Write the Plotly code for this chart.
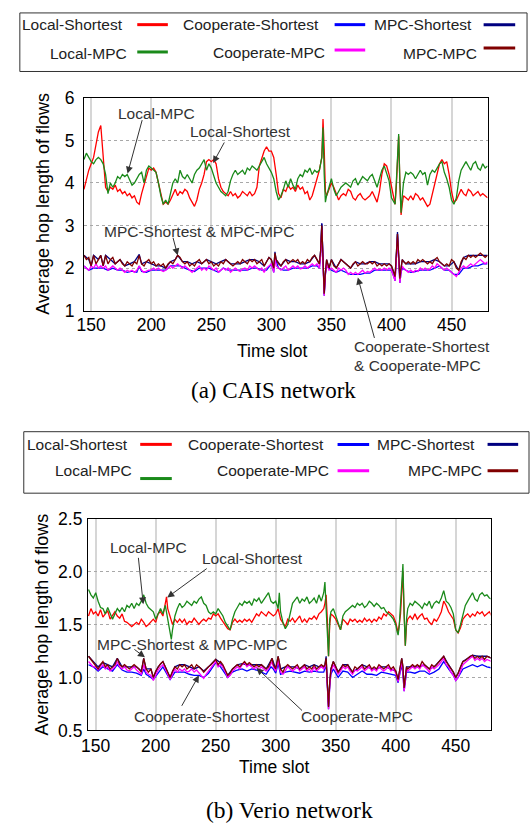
import plotly.graph_objects as go

# ---------------- data (time slot, average hop length) ----------------
series_names = ["Local-Shortest", "Local-MPC", "Cooperate-Shortest",
                "MPC-Shortest", "Cooperate-MPC", "MPC-MPC"]
series_colors = ["#ff0000", "#1a8a1a", "#0000ff", "#000080", "#ff00ff", "#800000"]
x_ticks = [150, 200, 250, 300, 350, 400, 450]
y_ticks_a = [1, 2, 3, 4, 5, 6]
y_ticks_b = [0.5, 1.0, 1.5, 2.0, 2.5]
y_ticktext_b = ["0.5", "1.0", "1.5", "2.0", "2.5"]

# (a) CAIS network
LS_A = [[144,3.85],[146,4.1],[148,4.3],[150,4.45],[152,4.6],[154,4.9],[156,5.2],[158,5.35],[160,4.7],[162,3.9],[164,3.8],[166,3.9],[168,3.85],[170,3.95],[172,3.8],[174,3.85],[176,3.75],[178,3.8],[180,3.7],[182,3.75],[184,3.65],[186,3.7],[188,3.55],[190,3.5],[192,3.75],[194,3.95],[196,4.2],[198,4.35],[200,4.3],[202,4.35],[204,4.25],[206,4.0],[208,3.7],[210,3.5],[212,3.55],[214,3.5],[216,3.6],[218,3.75],[220,3.85],[222,3.7],[224,3.8],[226,3.75],[228,3.85],[230,3.8],[232,3.65],[234,3.55],[236,3.45],[238,3.6],[240,3.85],[242,4.0],[244,4.2],[246,4.5],[248,4.55],[250,4.5],[252,4.55],[254,4.45],[256,4.1],[258,3.9],[260,3.8],[262,3.75],[264,3.7],[266,3.8],[268,3.7],[270,3.75],[272,3.65],[274,3.7],[276,3.8],[278,3.75],[280,3.7],[282,3.8],[284,3.7],[286,3.75],[288,3.9],[290,4.4],[292,4.6],[294,4.75],[296,4.85],[298,4.75],[300,4.75],[302,4.6],[304,4.2],[306,3.75],[308,3.65],[310,3.85],[312,3.8],[314,3.95],[316,3.85],[318,3.9],[320,3.8],[322,3.95],[324,3.85],[326,3.9],[328,3.75],[330,3.8],[332,3.6],[334,3.7],[336,3.9],[338,4.1],[340,4.3],[342,4.6],[343,5.5],[344,4.8],[345,3.8],[346,3.7],[348,3.85],[350,4.0],[352,3.9],[354,3.75],[356,3.6],[358,3.7],[360,3.75],[362,3.7],[364,3.85],[366,3.8],[368,3.65],[370,3.6],[372,3.7],[374,3.75],[376,3.65],[378,3.6],[380,3.65],[382,3.7],[384,3.8],[386,3.65],[388,3.55],[390,3.8],[392,4.2],[394,4.45],[396,4.4],[398,4.2],[400,3.9],[402,3.6],[403,3.5],[404,3.9],[405,4.6],[406,5.1],[407,4.0],[408,3.25],[409,3.5],[410,3.7],[412,3.65],[414,3.6],[416,3.7],[418,3.6],[420,3.75],[422,3.7],[424,3.6],[426,3.65],[428,3.55],[430,3.45],[432,3.5],[434,3.75],[436,4.0],[438,4.2],[440,4.45],[442,4.55],[444,4.45],[446,4.5],[448,4.2],[450,3.8],[452,3.55],[454,3.6],[456,3.75],[458,3.85],[460,3.75],[462,3.7],[464,3.85],[466,3.8],[468,3.7],[470,3.75],[472,3.8],[474,3.7],[476,3.75],[478,3.7],[480,3.65]]
LM_A = [[144,4.55],[146,4.7],[148,4.6],[150,4.5],[152,4.45],[154,4.55],[156,4.6],[158,4.55],[160,4.45],[162,4.2],[164,3.75],[166,4.0],[168,3.9],[170,4.0],[172,4.15],[174,4.1],[176,4.2],[178,4.15],[180,4.2],[182,4.05],[184,3.95],[186,4.0],[188,4.1],[190,4.2],[192,4.25],[194,4.0],[196,4.3],[198,4.4],[200,4.35],[202,4.3],[204,4.25],[206,4.0],[208,3.7],[210,3.5],[212,3.6],[214,3.5],[216,3.75],[218,4.0],[220,4.1],[222,4.0],[224,4.3],[226,4.15],[228,4.1],[230,4.2],[232,4.1],[234,4.0],[236,4.2],[238,4.3],[240,4.35],[242,4.45],[244,4.55],[246,4.3],[248,4.45],[250,4.35],[252,4.2],[254,4.0],[256,3.9],[258,3.8],[260,3.75],[262,3.7],[264,3.8],[266,4.05],[268,4.2],[270,4.3],[272,4.2],[274,4.25],[276,4.3],[278,4.2],[280,4.35],[282,4.3],[284,4.4],[286,4.35],[288,4.3],[290,4.4],[292,4.5],[294,4.6],[296,4.45],[298,4.35],[300,4.25],[302,4.1],[304,3.8],[306,3.6],[308,3.7],[310,3.85],[312,4.05],[314,3.9],[316,4.1],[318,3.95],[320,3.85],[322,4.1],[324,4.2],[326,4.15],[328,4.3],[330,4.25],[332,4.35],[334,4.2],[336,4.3],[338,4.25],[340,4.3],[342,4.6],[343,5.3],[344,4.2],[345,3.55],[346,3.7],[348,3.9],[350,4.1],[352,3.85],[354,3.7],[356,3.8],[358,3.9],[360,3.95],[362,4.0],[364,3.95],[366,3.9],[368,4.05],[370,4.1],[372,3.95],[374,4.05],[376,4.15],[378,4.1],[380,4.05],[382,4.15],[384,4.2],[386,4.05],[388,3.9],[390,4.1],[392,4.3],[394,4.4],[396,4.2],[398,4.05],[400,3.65],[402,3.55],[403,3.5],[404,4.0],[405,4.7],[406,5.15],[407,4.0],[408,3.3],[409,3.7],[410,4.0],[412,4.25],[414,4.2],[416,4.25],[418,4.2],[420,4.1],[422,4.2],[424,4.3],[426,4.2],[428,4.25],[430,3.95],[432,4.2],[434,4.3],[436,4.25],[438,4.35],[440,4.45],[442,4.5],[444,4.25],[446,4.1],[448,3.9],[450,3.6],[452,3.5],[454,3.65],[456,4.05],[458,4.3],[460,4.4],[462,4.5],[464,4.4],[466,4.3],[468,4.45],[470,4.5],[472,4.35],[474,4.3],[476,4.45],[478,4.35],[480,4.4]]
CS_A = [[144,2.05],[148,1.95],[152,2.0],[156,2.0],[160,2.0],[164,1.95],[168,2.0],[172,1.95],[176,1.95],[180,1.9],[184,1.93],[188,1.9],[190,2.05],[192,1.92],[196,1.9],[200,1.95],[204,1.95],[208,1.95],[212,1.95],[216,2.05],[220,2.05],[224,2.05],[228,2.0],[232,1.95],[236,1.92],[240,2.0],[244,2.0],[248,2.0],[252,1.95],[256,1.9],[260,2.0],[264,1.95],[268,1.95],[272,1.95],[276,1.95],[280,1.95],[284,2.0],[288,2.0],[292,1.95],[296,1.95],[300,2.1],[302,1.9],[303,2.25],[306,2.0],[310,1.95],[314,1.95],[318,2.0],[322,2.0],[326,2.0],[330,2.0],[334,2.05],[338,2.05],[340,2.0],[341,2.3],[342,3.05],[343,2.1],[344,1.35],[345,1.85],[346,2.05],[350,1.95],[354,1.9],[358,1.95],[362,1.9],[366,1.85],[370,1.85],[374,1.85],[378,1.88],[382,1.88],[386,1.95],[390,1.95],[394,1.95],[398,1.95],[400,1.95],[402,1.8],[403,1.7],[404,2.2],[405,2.8],[406,2.2],[407,1.65],[408,1.9],[409,2.0],[412,1.95],[416,1.9],[420,1.92],[424,1.95],[428,1.95],[432,1.95],[436,2.0],[440,2.05],[444,1.95],[448,1.95],[452,1.85],[456,1.85],[460,2.0],[464,2.0],[468,2.05],[472,2.05],[476,2.1],[480,2.1]]
MS_A = [[144,2.3],[148,2.2],[150,2.05],[152,2.3],[156,2.2],[158,2.3],[160,2.05],[162,2.3],[166,2.2],[170,2.1],[174,2.2],[178,2.05],[182,2.1],[186,2.15],[190,2.32],[192,2.1],[196,2.15],[200,2.1],[204,2.05],[208,2.05],[212,2.0],[216,2.15],[220,2.2],[222,2.3],[226,2.15],[230,2.15],[234,2.1],[238,2.15],[242,2.1],[246,2.2],[250,2.15],[254,2.1],[258,2.15],[262,2.2],[266,2.1],[270,2.1],[274,2.1],[278,2.15],[282,2.2],[286,2.2],[290,2.15],[294,2.05],[298,2.25],[300,2.2],[302,2.0],[303,2.38],[304,2.2],[308,2.05],[312,2.2],[316,2.15],[320,2.15],[324,2.1],[328,2.1],[332,2.15],[336,2.3],[340,2.1],[341,2.4],[342,3.05],[343,2.2],[344,1.4],[345,1.9],[346,2.2],[348,2.0],[350,2.2],[354,2.0],[358,2.2],[362,2.1],[366,2.0],[370,2.15],[374,2.1],[378,2.1],[382,2.15],[386,2.15],[390,2.1],[394,2.1],[398,2.1],[400,2.05],[402,1.9],[403,1.8],[404,2.3],[405,2.85],[406,2.3],[407,1.75],[408,2.0],[409,2.2],[412,2.1],[416,2.1],[420,2.1],[424,2.15],[428,2.15],[432,2.15],[436,2.2],[440,2.15],[444,2.05],[448,2.05],[452,2.15],[456,1.95],[460,2.25],[464,2.3],[468,2.3],[472,2.3],[476,2.3],[480,2.3]]
CM_A = [[144,2.05],[146,2.0],[148,1.95],[150,2.05],[152,2.0],[154,2.1],[156,2.0],[158,2.05],[160,2.0],[162,2.05],[164,1.95],[166,2.0],[168,2.05],[170,2.0],[172,1.95],[174,2.0],[176,1.95],[178,1.9],[180,1.95],[182,1.92],[184,1.95],[186,1.9],[188,1.95],[190,2.05],[192,1.95],[194,1.9],[196,1.93],[198,1.95],[200,1.95],[202,2.0],[204,1.95],[206,2.0],[208,1.95],[210,1.92],[212,1.95],[214,2.0],[216,2.05],[218,2.0],[220,2.05],[222,2.1],[224,2.05],[226,2.0],[228,2.05],[230,2.0],[232,1.95],[234,1.9],[236,1.95],[238,2.0],[240,2.05],[242,1.95],[244,2.0],[246,1.95],[248,2.05],[250,2.0],[252,1.95],[254,2.0],[256,1.9],[258,1.95],[260,2.0],[262,1.95],[264,2.0],[266,1.9],[268,1.95],[270,2.0],[272,1.95],[274,1.92],[276,1.98],[278,2.0],[280,1.95],[282,2.05],[284,2.0],[286,2.05],[288,2.0],[290,1.95],[292,2.0],[294,1.9],[296,2.0],[298,2.05],[300,2.1],[302,1.9],[303,2.25],[304,2.05],[306,2.0],[308,1.95],[310,2.0],[312,2.05],[314,1.95],[316,2.0],[318,2.05],[320,2.0],[322,2.05],[324,1.98],[326,2.0],[328,2.05],[330,2.0],[332,2.05],[334,2.1],[336,2.05],[338,2.1],[340,2.0],[341,2.3],[342,2.9],[343,2.1],[344,1.35],[345,1.85],[346,2.1],[348,1.95],[350,2.0],[352,1.95],[354,1.9],[356,2.0],[358,1.95],[360,2.0],[362,1.95],[364,1.85],[366,1.9],[368,1.85],[370,1.9],[372,1.85],[374,1.9],[376,1.95],[378,1.88],[380,1.92],[382,1.9],[384,1.95],[386,2.0],[388,1.95],[390,1.98],[392,1.95],[394,2.0],[396,1.95],[398,2.0],[400,1.95],[402,1.8],[403,1.7],[404,2.2],[405,2.7],[406,2.2],[407,1.65],[408,1.9],[409,2.05],[410,2.0],[412,1.95],[414,1.9],[416,1.95],[418,1.9],[420,1.95],[422,1.92],[424,2.0],[426,1.95],[428,2.0],[430,1.95],[432,1.98],[434,2.05],[436,2.0],[438,2.1],[440,2.05],[442,2.0],[444,1.95],[446,2.0],[448,1.95],[450,1.9],[452,1.85],[454,1.8],[456,1.9],[458,2.0],[460,2.05],[462,2.0],[464,2.05],[466,2.1],[468,2.05],[470,2.1],[472,2.15],[474,2.2],[476,2.15],[478,2.1],[480,2.15]]
MM_A = [[144,2.3],[146,2.2],[148,2.25],[150,2.05],[152,2.3],[154,2.1],[156,2.2],[158,2.3],[160,2.05],[162,2.3],[164,2.1],[166,2.2],[168,2.25],[170,2.1],[172,2.15],[174,2.2],[176,2.1],[178,2.05],[180,2.15],[182,2.1],[184,2.05],[186,2.15],[188,2.1],[190,2.3],[192,2.1],[194,2.05],[196,2.15],[198,2.2],[200,2.1],[202,2.15],[204,2.05],[206,2.1],[208,2.05],[210,2.1],[212,2.0],[214,2.1],[216,2.15],[218,2.1],[220,2.2],[222,2.3],[224,2.25],[226,2.15],[228,2.1],[230,2.15],[232,2.05],[234,2.1],[236,2.05],[238,2.15],[240,2.2],[242,2.1],[244,2.15],[246,2.2],[248,2.1],[250,2.15],[252,2.05],[254,2.1],[256,2.05],[258,2.15],[260,2.1],[262,2.2],[264,2.15],[266,2.1],[268,2.05],[270,2.1],[272,2.15],[274,2.1],[276,2.2],[278,2.15],[280,2.1],[282,2.2],[284,2.15],[286,2.2],[288,2.1],[290,2.15],[292,2.2],[294,2.05],[296,2.15],[298,2.25],[300,2.2],[302,2.0],[303,2.35],[304,2.2],[306,2.1],[308,2.05],[310,2.15],[312,2.2],[314,2.1],[316,2.15],[318,2.2],[320,2.15],[322,2.2],[324,2.1],[326,2.15],[328,2.1],[330,2.2],[332,2.15],[334,2.25],[336,2.3],[338,2.2],[340,2.1],[341,2.4],[342,3.0],[343,2.2],[344,1.4],[345,1.9],[346,2.2],[348,2.0],[350,2.2],[352,2.05],[354,2.0],[356,2.1],[358,2.2],[360,2.15],[362,2.1],[364,2.05],[366,2.0],[368,2.1],[370,2.15],[372,2.05],[374,2.1],[376,2.15],[378,2.1],[380,2.1],[382,2.15],[384,2.1],[386,2.15],[388,2.05],[390,2.1],[392,2.05],[394,2.1],[396,2.05],[398,2.1],[400,2.05],[402,1.9],[403,1.8],[404,2.3],[405,2.8],[406,2.3],[407,1.75],[408,2.0],[409,2.2],[410,2.15],[412,2.1],[414,2.15],[416,2.1],[418,2.15],[420,2.1],[422,2.2],[424,2.15],[426,2.2],[428,2.15],[430,2.1],[432,2.15],[434,2.1],[436,2.2],[438,2.25],[440,2.15],[442,2.1],[444,2.05],[446,2.1],[448,2.05],[450,2.2],[452,2.15],[454,2.0],[456,1.95],[458,2.15],[460,2.25],[462,2.2],[464,2.3],[466,2.25],[468,2.3],[470,2.25],[472,2.3],[474,2.35],[476,2.3],[478,2.25],[480,2.3]]

# (b) Verio network
LS_B = [[144,1.58],[146,1.65],[148,1.6],[150,1.62],[152,1.58],[154,1.64],[156,1.57],[158,1.6],[160,1.63],[162,1.55],[164,1.58],[166,1.62],[168,1.58],[170,1.56],[172,1.6],[174,1.53],[176,1.52],[178,1.5],[180,1.48],[182,1.5],[184,1.52],[186,1.5],[188,1.55],[190,1.52],[192,1.48],[194,1.5],[196,1.53],[198,1.55],[200,1.52],[202,1.6],[204,1.62],[206,1.58],[208,1.7],[209,1.76],[210,1.65],[212,1.58],[214,1.5],[216,1.55],[218,1.52],[220,1.55],[222,1.52],[224,1.55],[226,1.5],[228,1.53],[230,1.52],[232,1.56],[234,1.53],[236,1.5],[238,1.53],[240,1.55],[242,1.53],[244,1.56],[246,1.55],[248,1.6],[250,1.58],[252,1.6],[254,1.56],[256,1.53],[258,1.5],[260,1.46],[262,1.45],[264,1.52],[266,1.55],[268,1.52],[270,1.54],[272,1.52],[274,1.55],[276,1.53],[278,1.55],[280,1.52],[282,1.56],[284,1.6],[286,1.58],[288,1.62],[290,1.6],[292,1.58],[294,1.62],[296,1.6],[298,1.58],[300,1.6],[302,1.65],[304,1.55],[306,1.52],[308,1.48],[310,1.55],[312,1.53],[314,1.56],[316,1.52],[318,1.55],[320,1.58],[322,1.52],[324,1.55],[326,1.52],[328,1.56],[330,1.55],[332,1.58],[334,1.55],[336,1.6],[338,1.62],[340,1.65],[341,1.7],[342,1.78],[343,1.55],[344,1.2],[345,1.5],[346,1.6],[348,1.58],[350,1.55],[352,1.5],[354,1.45],[356,1.55],[358,1.52],[360,1.5],[362,1.55],[364,1.53],[366,1.55],[368,1.52],[370,1.54],[372,1.52],[374,1.56],[376,1.53],[378,1.55],[380,1.52],[382,1.55],[384,1.53],[386,1.57],[388,1.55],[390,1.6],[392,1.58],[394,1.62],[396,1.6],[398,1.58],[400,1.52],[401,1.46],[402,1.42],[403,1.5],[404,1.6],[405,1.8],[406,2.0],[407,1.6],[408,1.3],[409,1.5],[410,1.55],[412,1.58],[414,1.55],[416,1.6],[418,1.55],[420,1.58],[422,1.6],[424,1.55],[426,1.56],[428,1.52],[430,1.5],[432,1.55],[434,1.53],[436,1.57],[438,1.62],[440,1.72],[442,1.68],[444,1.62],[446,1.58],[448,1.55],[450,1.45],[452,1.42],[454,1.47],[456,1.55],[458,1.58],[460,1.6],[462,1.57],[464,1.6],[466,1.58],[468,1.62],[470,1.6],[472,1.62],[474,1.58],[476,1.6],[478,1.62],[480,1.58]]
LM_B = [[144,1.83],[146,1.78],[148,1.75],[150,1.8],[152,1.72],[154,1.66],[156,1.65],[158,1.6],[160,1.66],[162,1.6],[164,1.55],[166,1.6],[168,1.65],[170,1.62],[172,1.66],[174,1.62],[176,1.68],[178,1.66],[180,1.7],[182,1.65],[184,1.7],[186,1.68],[188,1.72],[190,1.78],[192,1.7],[194,1.66],[196,1.64],[198,1.62],[200,1.55],[202,1.6],[204,1.65],[206,1.6],[208,1.68],[210,1.55],[212,1.42],[213,1.36],[214,1.45],[216,1.58],[218,1.65],[220,1.7],[222,1.66],[224,1.68],[226,1.72],[228,1.7],[230,1.68],[232,1.72],[234,1.7],[236,1.74],[238,1.76],[240,1.7],[242,1.68],[244,1.62],[246,1.6],[248,1.62],[250,1.6],[252,1.65],[254,1.62],[256,1.58],[258,1.52],[260,1.48],[262,1.45],[264,1.55],[266,1.62],[268,1.66],[270,1.7],[272,1.68],[274,1.72],[276,1.7],[278,1.72],[280,1.68],[282,1.74],[284,1.72],[286,1.75],[288,1.7],[290,1.73],[292,1.76],[294,1.8],[296,1.72],[298,1.7],[300,1.72],[302,1.65],[303,1.8],[304,1.62],[306,1.52],[308,1.46],[310,1.5],[312,1.6],[314,1.7],[316,1.73],[318,1.76],[320,1.7],[322,1.74],[324,1.72],[326,1.76],[328,1.7],[330,1.72],[332,1.75],[334,1.7],[336,1.78],[338,1.72],[340,1.8],[341,1.9],[342,1.65],[343,1.4],[344,1.2],[345,1.55],[346,1.62],[348,1.65],[350,1.58],[352,1.52],[354,1.45],[356,1.58],[358,1.62],[360,1.64],[362,1.66],[364,1.68],[366,1.66],[368,1.7],[370,1.68],[372,1.7],[374,1.66],[376,1.68],[378,1.72],[380,1.7],[382,1.67],[384,1.7],[386,1.68],[388,1.65],[390,1.66],[392,1.62],[394,1.6],[396,1.58],[398,1.55],[400,1.5],[401,1.44],[402,1.4],[403,1.5],[404,1.7],[405,1.9],[406,2.07],[407,1.6],[408,1.3],[409,1.55],[410,1.65],[412,1.7],[414,1.68],[416,1.72],[418,1.7],[420,1.68],[422,1.65],[424,1.7],[426,1.68],[428,1.72],[430,1.65],[432,1.7],[434,1.72],[436,1.7],[438,1.75],[440,1.82],[442,1.72],[444,1.7],[446,1.66],[448,1.6],[450,1.45],[452,1.42],[454,1.5],[456,1.6],[458,1.68],[460,1.72],[462,1.76],[464,1.8],[466,1.74],[468,1.72],[470,1.78],[472,1.8],[474,1.77],[476,1.78],[478,1.75],[480,1.74]]
CS_B = [[144,1.12],[148,1.1],[152,1.06],[156,1.1],[160,1.08],[164,1.06],[168,1.12],[172,1.07],[176,1.05],[180,1.05],[184,1.04],[188,1.02],[190,1.08],[192,1.03],[196,1.0],[198,0.98],[202,1.04],[206,1.1],[210,1.02],[212,0.98],[216,1.05],[220,1.05],[224,1.05],[228,1.03],[232,1.02],[236,1.02],[240,1.0],[244,1.04],[248,1.1],[250,1.14],[254,1.1],[258,1.03],[260,1.0],[264,1.05],[268,1.07],[272,1.08],[276,1.06],[280,1.08],[284,1.07],[288,1.05],[292,1.03],[296,1.1],[298,1.08],[300,1.04],[302,1.13],[304,1.03],[308,1.05],[312,1.06],[316,1.05],[320,1.04],[324,1.06],[328,1.05],[332,1.06],[336,1.05],[340,1.05],[341,1.08],[342,1.12],[343,0.92],[344,0.7],[345,0.92],[346,1.03],[348,1.08],[352,1.0],[356,1.06],[360,1.05],[364,1.0],[368,1.03],[372,1.06],[376,1.03],[380,1.03],[384,1.02],[388,1.05],[392,1.04],[396,1.03],[400,1.02],[402,0.95],[404,1.08],[405,1.12],[406,1.03],[407,0.87],[408,0.96],[409,1.05],[412,1.05],[416,1.04],[420,1.06],[424,1.06],[428,1.03],[432,1.05],[436,1.08],[440,1.15],[444,1.08],[448,1.02],[450,0.97],[452,1.0],[456,1.08],[460,1.1],[464,1.12],[468,1.1],[472,1.12],[476,1.1],[480,1.09]]
MS_B = [[144,1.2],[148,1.15],[152,1.1],[156,1.14],[160,1.12],[164,1.1],[168,1.18],[172,1.1],[176,1.1],[180,1.1],[184,1.1],[188,1.06],[190,1.18],[192,1.08],[196,1.08],[198,1.0],[202,1.1],[206,1.15],[210,1.05],[212,1.0],[216,1.1],[220,1.12],[224,1.12],[228,1.1],[232,1.08],[236,1.1],[240,1.06],[244,1.1],[248,1.15],[250,1.17],[254,1.14],[258,1.06],[260,1.02],[264,1.08],[268,1.12],[272,1.13],[276,1.12],[280,1.12],[284,1.12],[288,1.12],[292,1.08],[296,1.15],[297,1.18],[300,1.08],[302,1.2],[304,1.08],[308,1.1],[312,1.1],[316,1.1],[320,1.08],[324,1.12],[328,1.1],[332,1.12],[336,1.1],[340,1.1],[341,1.12],[342,1.2],[343,0.95],[344,0.73],[345,0.95],[346,1.08],[348,1.15],[352,1.05],[356,1.12],[360,1.12],[364,1.05],[368,1.08],[372,1.12],[376,1.1],[380,1.08],[384,1.08],[388,1.1],[392,1.1],[396,1.08],[400,1.06],[402,0.98],[404,1.12],[405,1.18],[406,1.1],[407,0.9],[408,1.0],[409,1.1],[412,1.1],[416,1.1],[420,1.1],[424,1.12],[428,1.08],[432,1.1],[436,1.15],[440,1.2],[444,1.12],[448,1.05],[450,1.0],[452,1.04],[456,1.15],[460,1.18],[464,1.21],[468,1.2],[472,1.2],[476,1.2],[480,1.18]]
CM_B = [[144,1.15],[146,1.12],[148,1.1],[150,1.1],[152,1.07],[154,1.1],[156,1.12],[158,1.08],[160,1.1],[162,1.06],[164,1.08],[166,1.1],[168,1.15],[170,1.1],[172,1.08],[174,1.1],[176,1.07],[178,1.06],[180,1.08],[182,1.1],[184,1.07],[186,1.05],[188,1.03],[190,1.12],[192,1.05],[194,1.03],[196,1.02],[198,0.97],[200,1.02],[202,1.07],[204,1.1],[206,1.12],[208,1.08],[210,1.03],[212,0.98],[214,1.03],[216,1.08],[218,1.05],[220,1.08],[222,1.06],[224,1.08],[226,1.05],[228,1.06],[230,1.08],[232,1.05],[234,1.07],[236,1.04],[238,1.02],[240,0.99],[242,1.03],[244,1.06],[246,1.08],[248,1.12],[250,1.15],[252,1.1],[254,1.12],[256,1.1],[258,1.04],[260,1.0],[262,1.02],[264,1.06],[266,1.08],[268,1.1],[270,1.08],[272,1.12],[274,1.14],[276,1.1],[278,1.12],[280,1.1],[282,1.08],[284,1.1],[286,1.07],[288,1.1],[290,1.08],[292,1.06],[294,1.08],[296,1.12],[297,1.15],[298,1.1],[300,1.06],[302,1.16],[304,1.05],[306,1.03],[308,1.07],[310,1.1],[312,1.08],[314,1.06],[316,1.08],[318,1.1],[320,1.06],[322,1.08],[324,1.1],[326,1.06],[328,1.08],[330,1.05],[332,1.1],[334,1.06],[336,1.08],[338,1.1],[340,1.08],[341,1.1],[342,1.15],[343,0.92],[344,0.7],[345,0.92],[346,1.05],[348,1.12],[350,1.08],[352,1.03],[354,1.06],[356,1.1],[358,1.08],[360,1.1],[362,1.06],[364,1.03],[366,1.07],[368,1.06],[370,1.08],[372,1.1],[374,1.06],[376,1.08],[378,1.1],[380,1.06],[382,1.08],[384,1.06],[386,1.1],[388,1.08],[390,1.06],[392,1.08],[394,1.1],[396,1.06],[398,1.08],[400,1.04],[401,1.0],[402,0.96],[403,1.02],[404,1.1],[405,1.15],[406,1.05],[407,0.87],[408,0.97],[409,1.08],[410,1.06],[412,1.08],[414,1.1],[416,1.08],[418,1.1],[420,1.08],[422,1.12],[424,1.1],[426,1.08],[428,1.05],[430,1.1],[432,1.08],[434,1.1],[436,1.12],[438,1.15],[440,1.18],[442,1.12],[444,1.1],[446,1.05],[448,1.02],[450,0.97],[452,1.0],[454,1.06],[456,1.12],[458,1.14],[460,1.16],[462,1.18],[464,1.2],[466,1.16],[468,1.18],[470,1.16],[472,1.18],[474,1.15],[476,1.17],[478,1.16],[480,1.15]]
MM_B = [[144,1.2],[146,1.17],[148,1.15],[150,1.12],[152,1.08],[154,1.12],[156,1.15],[158,1.1],[160,1.12],[162,1.08],[164,1.1],[166,1.12],[168,1.18],[170,1.12],[172,1.1],[174,1.12],[176,1.1],[178,1.08],[180,1.1],[182,1.12],[184,1.1],[186,1.08],[188,1.05],[190,1.18],[192,1.08],[194,1.05],[196,1.08],[198,1.0],[200,1.06],[202,1.1],[204,1.13],[206,1.15],[208,1.1],[210,1.05],[212,1.0],[214,1.06],[216,1.1],[218,1.08],[220,1.12],[222,1.1],[224,1.12],[226,1.08],[228,1.1],[230,1.12],[232,1.08],[234,1.12],[236,1.1],[238,1.08],[240,1.05],[242,1.08],[244,1.1],[246,1.12],[248,1.15],[250,1.17],[252,1.12],[254,1.15],[256,1.12],[258,1.06],[260,1.02],[262,1.04],[264,1.08],[266,1.1],[268,1.12],[270,1.1],[272,1.13],[274,1.15],[276,1.12],[278,1.14],[280,1.12],[282,1.1],[284,1.12],[286,1.1],[288,1.12],[290,1.1],[292,1.08],[294,1.1],[296,1.15],[297,1.18],[298,1.12],[300,1.08],[302,1.2],[304,1.08],[306,1.05],[308,1.1],[310,1.12],[312,1.1],[314,1.08],[316,1.1],[318,1.12],[320,1.08],[322,1.1],[324,1.12],[326,1.08],[328,1.1],[330,1.08],[332,1.12],[334,1.08],[336,1.1],[338,1.12],[340,1.1],[341,1.12],[342,1.18],[343,0.95],[344,0.72],[345,0.95],[346,1.08],[348,1.15],[350,1.1],[352,1.05],[354,1.08],[356,1.12],[358,1.1],[360,1.12],[362,1.08],[364,1.05],[366,1.1],[368,1.08],[370,1.1],[372,1.12],[374,1.08],[376,1.1],[378,1.12],[380,1.08],[382,1.1],[384,1.08],[386,1.12],[388,1.1],[390,1.08],[392,1.1],[394,1.12],[396,1.08],[398,1.1],[400,1.06],[401,1.02],[402,0.98],[403,1.05],[404,1.12],[405,1.18],[406,1.1],[407,0.9],[408,1.0],[409,1.1],[410,1.08],[412,1.1],[414,1.12],[416,1.1],[418,1.12],[420,1.1],[422,1.15],[424,1.12],[426,1.1],[428,1.08],[430,1.12],[432,1.1],[434,1.12],[436,1.15],[438,1.18],[440,1.2],[442,1.15],[444,1.12],[446,1.08],[448,1.05],[450,1.0],[452,1.04],[454,1.1],[456,1.15],[458,1.16],[460,1.18],[462,1.2],[464,1.21],[466,1.18],[468,1.2],[470,1.18],[472,1.2],[474,1.17],[476,1.2],[478,1.19],[480,1.18]]

panel_a = [LS_A, LM_A, CS_A, MS_A, CM_A, MM_A]
panel_b = [LS_B, LM_B, CS_B, MS_B, CM_B, MM_B]

# ---------------- figure ----------------
W, H = 530, 838
SANS = "Liberation Sans, Arial, sans-serif"
SERIF = "Liberation Serif, Times New Roman, serif"

def PX(px):
    return px / W

def PY(py):
    return 1 - py / H

fig = go.Figure()
for pts, name, col in zip(panel_a, series_names, series_colors):
    fig.add_trace(go.Scatter(x=[p[0] for p in pts], y=[p[1] for p in pts], mode="lines",
                             name=name, line=dict(color=col, width=1.3),
                             xaxis="x", yaxis="y", showlegend=False))
for pts, name, col in zip(panel_b, series_names, series_colors):
    fig.add_trace(go.Scatter(x=[p[0] for p in pts], y=[p[1] for p in pts], mode="lines",
                             name=name, line=dict(color=col, width=1.3),
                             xaxis="x2", yaxis="y2", showlegend=False))

xcommon = dict(tickvals=x_ticks, showgrid=True, gridcolor="#d6d6d6", gridwidth=2,
               showline=True, linecolor="black", linewidth=1, mirror=True,
               ticks="", zeroline=False, tickfont=dict(family=SANS, size=17.5, color="black"))
ycommon = dict(showgrid=True, gridcolor="#a8a8a8", gridwidth=1, griddash="dot",
               showline=True, linecolor="black", linewidth=1, mirror=True,
               ticks="", zeroline=False, tickfont=dict(family=SANS, size=17.5, color="black"))

fig.update_layout(
    width=W, height=H, autosize=False,
    margin=dict(l=0, r=0, t=0, b=0),
    paper_bgcolor="white", plot_bgcolor="white",
    font=dict(family=SANS, color="black"),
    xaxis=dict(domain=[PX(78), PX(487)], range=[144, 480], anchor="y",
               ticklabelstandoff=-2, **xcommon),
    yaxis=dict(domain=[PY(308), PY(90)], range=[1, 6], anchor="x", tickvals=y_ticks_a,
               ticklabelstandoff=5, **ycommon),
    xaxis2=dict(domain=[PX(82), PX(490)], range=[143.5, 479], anchor="y2",
                ticklabelstandoff=0, **xcommon),
    yaxis2=dict(domain=[PY(738), PY(521)], range=[0.5, 2.5], anchor="x2", tickvals=y_ticks_b,
                ticktext=y_ticktext_b, ticklabelstandoff=1, **ycommon),
)

shapes = []
annotations = []

def text_ann(txt, px, py, size=15.5, color="#222222", xanchor="center", family=SANS, angle=0):
    annotations.append(dict(text=txt, x=PX(px), y=PY(py), xref="paper", yref="paper",
                            showarrow=False, xanchor=xanchor, yanchor="middle",
                            textangle=angle, borderpad=0,
                            font=dict(family=family, size=size, color=color)))

def arrow_ann(xr, yr, hx, hy, ax, ay):
    annotations.append(dict(text="", x=hx, y=hy, xref=xr, yref=yr, ax=ax, ay=ay,
                            showarrow=True, arrowhead=2, arrowsize=1.4, arrowwidth=1,
                            arrowcolor="#333333"))

# legend boxes (custom, text followed by line sample)
def legend_box(x0, y0, x1, y1, items):
    shapes.append(dict(type="rect", xref="paper", yref="paper", x0=PX(x0), x1=PX(x1),
                       y0=PY(y1), y1=PY(y0), line=dict(color="#333333", width=1)))
    for name, col, tx_right, ty, lx0, lx1, ly in items:
        text_ann(name, tx_right, ty, size=15.5, color="#222222", xanchor="right")
        shapes.append(dict(type="line", xref="paper", yref="paper", x0=PX(lx0), x1=PX(lx1),
                           y0=PY(ly), y1=PY(ly), line=dict(color=col, width=3)))

c = dict(zip(series_names, series_colors))
legend_box(13, 3, 527, 63, [
    ("Local-Shortest", c["Local-Shortest"], 119, 15, 132, 163, 15),
    ("Cooperate-Shortest", c["Cooperate-Shortest"], 317, 15, 332, 363, 15),
    ("MPC-Shortest", c["MPC-Shortest"], 472, 15, 483, 515, 15),
    ("Local-MPC", c["Local-MPC"], 123, 45, 132, 163, 43),
    ("Cooperate-MPC", c["Cooperate-MPC"], 323, 44, 332, 363, 41),
    ("MPC-MPC", c["MPC-MPC"], 477, 45, 483, 515, 39),
])
legend_box(17, 432, 529, 495, [
    ("Local-Shortest", c["Local-Shortest"], 124, 445, 135, 167, 445),
    ("Cooperate-Shortest", c["Cooperate-Shortest"], 322, 445, 335, 367, 445),
    ("MPC-Shortest", c["MPC-Shortest"], 475, 445, 487, 518, 445),
    ("Local-MPC", c["Local-MPC"], 128, 472, 135, 167, 480),
    ("Cooperate-MPC", c["Cooperate-MPC"], 327, 472, 335, 367, 472),
    ("MPC-MPC", c["MPC-MPC"], 482, 472, 487, 518, 472),
])

# axis titles
text_ann("Average hop length of flows", 37, 199, size=18, color="black", angle=-90)
text_ann("Time slot", 269, 349, size=17.5, color="black")
text_ann("Average hop length of flows", 35, 630, size=18, color="black", angle=-90)
text_ann("Time slot", 271, 776, size=17.5, color="black")

# captions
text_ann("(a) CAIS network", 270, 390, size=23, color="black", family=SERIF)
text_ann("(b) Verio network", 286, 820, size=23.5, color="black", family=SERIF)

# in-plot labels, panel (a)
text_ann("Local-MPC", 152, 106, color="#333333")
text_ann("Local-Shortest", 237, 124, color="#333333")
text_ann("MPC-Shortest &amp; MPC-MPC", 195, 227, color="#333333")
text_ann("Cooperate-Shortest", 351, 345, color="#333333", xanchor="left")
text_ann("&amp; Cooperate-MPC", 351, 364, color="#333333", xanchor="left")
arrow_ann("x", "y", 180.3, 4.22, 15, -55)
arrow_ann("x", "y", 251.5, 4.47, 12, -22)
arrow_ann("x", "y", 222, 2.3, -5, -19)
arrow_ann("x", "y", 372, 1.78, 17, 62)

# in-plot labels, panel (b)
text_ann("Local-MPC", 143, 551, color="#333333")
text_ann("Local-Shortest", 249, 562, color="#333333")
text_ann("MPC-Shortest &amp; MPC-MPC", 187, 650, color="#333333")
text_ann("Cooperate-Shortest", 198, 724, color="#333333")
text_ann("Cooperate-MPC", 355, 724, color="#333333")
arrow_ann("x2", "y2", 189.6, 1.69, -5, -48)
arrow_ann("x2", "y2", 209.6, 1.755, 41, -30)
arrow_ann("x2", "y2", 191, 1.19, -12, -9)
arrow_ann("x2", "y2", 236, 1.02, -18, 32)
arrow_ann("x2", "y2", 284, 1.09, 47, 44)

fig.update_layout(shapes=shapes, annotations=annotations)
fig.write_html("out.html", config={"displayModeBar": False},
               post_script="document.body.style.margin='0px';document.body.style.overflow='hidden';")
